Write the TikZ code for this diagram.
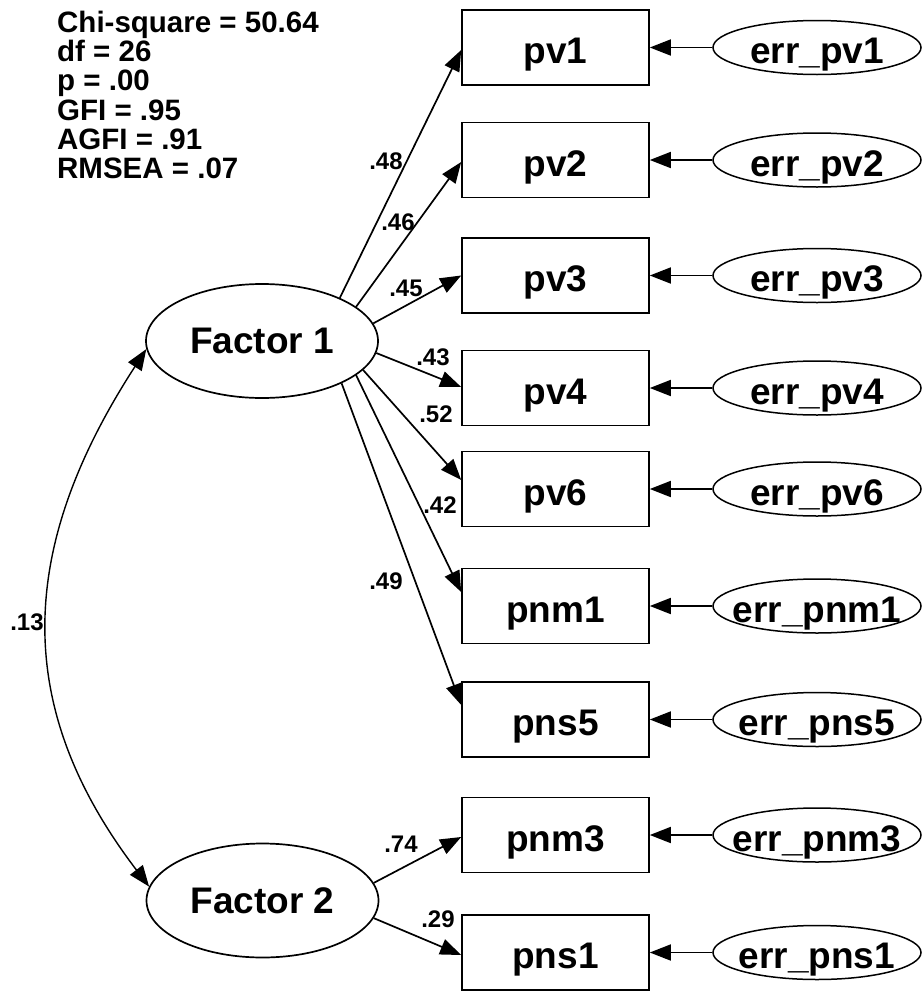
\documentclass[tikz,border=0pt]{standalone}
\usepackage{fontspec}
\setmainfont{Liberation Sans}
\usetikzlibrary{arrows.meta,shapes.geometric}
\newcommand\errtxt[1]{\makebox[0pt]{#1}}
\begin{document}
\begin{tikzpicture}[x=1pt,y=-1pt,
  >={Triangle[length=21pt,width=16pt]},
  obs/.style={draw, line width=1.6pt, minimum width=187pt, minimum height=75pt, inner sep=0pt, text height=32pt, text depth=0pt, font=\fontsize{37}{37}\selectfont\bfseries},
  lat/.style={draw, ellipse, line width=1.7pt, minimum width=232pt, minimum height=114pt, inner sep=0pt, font=\fontsize{37}{37}\selectfont\bfseries},
  errv/.style={draw, ellipse, line width=1.5pt, minimum width=208pt, minimum height=54pt, inner sep=0pt, text height=32pt, text depth=0pt, font=\fontsize{37}{37}\selectfont\bfseries},
  lbl/.style={inner sep=0pt, font=\fontsize{24}{24}\selectfont\bfseries},
  arr/.style={line width=1.7pt, ->},
  cov/.style={line width=1.4pt, <->},
]
\fill[white] (0,0) rectangle (923,991);
\useasboundingbox (0,0) rectangle (923,991);

% statistics
\node[anchor=north west, inner sep=0pt, align=left, font=\fontsize{29.5}{29.2}\selectfont\bfseries] (stats) at (57,11)
  {Chi-square = 50.64\\df = 26\\p = .00\\GFI = .95\\AGFI = .91\\RMSEA = .07};

% latent factors
\node[lat] (f1) at (262,341) {Factor 1};
\node[lat] (f2) at (262.5,900.5) {Factor 2};

% observed variables
\node[obs] (pv1)  at (555.5,47.5)  {pv1};
\node[obs] (pv2)  at (555.5,160)   {pv2};
\node[obs] (pv3)  at (555.5,275.5) {pv3};
\node[obs] (pv4)  at (555.5,388)   {pv4};
\node[obs] (pv6)  at (555.5,489)   {pv6};
\node[obs] (pnm1) at (555.5,606)   {pnm1};
\node[obs] (pns5) at (555.5,719.5) {pns5};
\node[obs] (pnm3) at (555.5,835)   {pnm3};
\node[obs] (pns1) at (555.5,952.5) {pns1};

% error terms
\node[errv] (e1) at (817,47.5)  {\errtxt{err\_pv1}};
\node[errv] (e2) at (817,160)   {\errtxt{err\_pv2}};
\node[errv] (e3) at (817,275.5) {\errtxt{err\_pv3}};
\node[errv] (e4) at (817,388)   {\errtxt{err\_pv4}};
\node[errv] (e5) at (817,489)   {\errtxt{err\_pv6}};
\node[errv] (e6) at (817,606)   {\errtxt{err\_pnm1}};
\node[errv] (e7) at (817,719.5) {\errtxt{err\_pns5}};
\node[errv] (e8) at (817,835)   {\errtxt{err\_pnm3}};
\node[errv] (e9) at (817,952.5) {\errtxt{err\_pns1}};

\foreach \e/\v in {e1/pv1,e2/pv2,e3/pv3,e4/pv4,e5/pv6,e6/pnm1,e7/pns5,e8/pnm3,e9/pns1}
  \draw[arr] (\e) -- (\v);

% loadings
\draw[arr] (f1.29.4)  -- ([yshift=-2.5pt]pv1.west);
\draw[arr] (f1.20.8)  -- ([yshift=-2pt]pv2.west);
\draw[arr] (f1.9)     -- (pv3.west);
\draw[arr] (f1.354)   -- ([yshift=1pt]pv4.west);
\draw[arr] (f1.344)   -- ([yshift=9pt]pv6.west);
\draw[arr] (f1.340.5) -- ([yshift=14pt]pnm1.west);
\draw[arr] (f1.332.6) -- ([yshift=14.5pt]pns5.west);
\draw[arr] (f2.9.3)   -- ([yshift=-2pt]pnm3.west);
\draw[arr] (f2.351.8) -- ([yshift=-2.5pt]pns1.west);

% covariance
\draw[cov] (f1.184.5) .. controls (16,550) and (13,708) .. (f2.173.8);

% labels
\node[lbl] (l1) at (386,161) {.48};
\node[lbl] (l2) at (398,222) {.46};
\node[lbl] (l3) at (406,288) {.45};
\node[lbl] (l4) at (433,357) {.43};
\node[lbl] (l5) at (436,414) {.52};
\node[lbl] (l6) at (440,505) {.42};
\node[lbl] (l7) at (386,581) {.49};
\node[lbl] (l8) at (27,622)  {.13};
\node[lbl] (l9) at (401,844) {.74};
\node[lbl] (l10) at (438,919) {.29};
\end{tikzpicture}
\end{document}
